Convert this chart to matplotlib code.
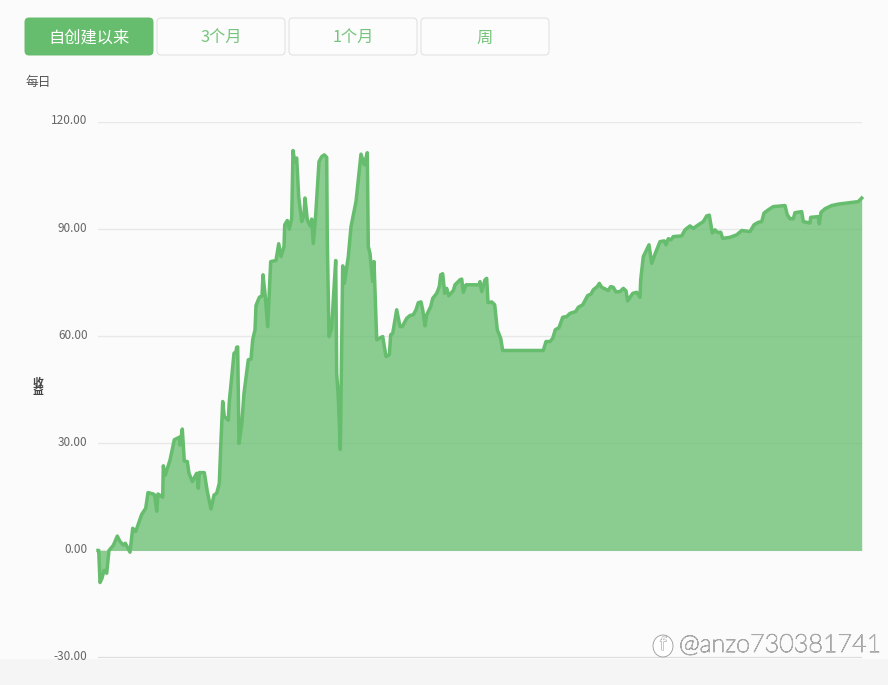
import matplotlib
matplotlib.use('Agg')
import matplotlib.pyplot as plt
import matplotlib.patheffects as pe
from matplotlib.patches import Ellipse, FancyBboxPatch, Rectangle
from matplotlib.transforms import ScaledTranslation

plt.rcParams['font.family'] = ['Noto Sans CJK SC', 'DejaVu Sans']

buttons = ['自创建以来', '3个月', '1个月', '周']
y_ticks = [-30, 0, 30, 60, 90, 120]

# день от начала графика и доходность
days_1 = [0, 0.7, 2, 4, 6, 8.7, 11, 15.3, 19.3, 22,
          25.3, 27.3, 32, 34.7, 37.7, 43.7, 47.7, 50, 55.3, 56.7,
          58.7, 60, 64.7, 65.3, 67.3, 72, 76.3, 81.3, 82, 84.3,
          86.3, 89.3, 91, 94.3, 98.7, 100.3, 101.3, 106.3, 109.3, 113,
          116, 118.7, 121.3, 122.7]
values_1 = [0, 0, -9, -7.8, -5.6, -6.4, 0, 1.4, 4, 2.5,
            1.5, 2, -0.5, 6.2, 5.3, 10.1, 11.8, 16.2, 15.8, 15.5,
            11, 15.8, 14.9, 23.7, 21.1, 25.3, 31, 31.7, 29.5, 34,
            25, 24.9, 21.6, 19.3, 21.6, 17.4, 21.8, 21.8, 16.5, 11.6,
            15.5, 16, 18.8, 29]

days_2 = [124.7, 126.3, 130.3, 131.3, 133.7, 136, 138, 138.7, 139.7, 141,
          143.7, 146, 150.3, 153, 154.7, 157, 158, 161.3, 164, 165,
          167.3, 169.7, 172.7, 178, 180.7, 183, 186, 186.7, 189.3, 191.3,
          193.7, 195, 196.7, 198.7, 200.7, 203.7, 206, 207, 209.3, 212,
          213.7, 215.3, 217.7, 219.3, 221, 223.7, 226.3, 228.7, 229.3, 231,
          233.7, 235.3, 237.7, 238.7, 240.3, 242.3, 243.7, 244.7, 246.3, 250.3,
          253, 258, 260.3, 263, 266.3, 269.3, 270.3, 272, 274.7, 276,
          278.7, 284.7, 288, 291.3, 292.7, 294.7, 298.7, 302, 304.3, 308.7]
values_2 = [41.7, 37.5, 36.5, 41.7, 48.7, 55.2, 55.7, 56.9, 57, 30,
            35.2, 44, 53.4, 53.6, 59, 61.8, 68.6, 70.9, 71.3, 77.2,
            71.1, 62.7, 80.9, 81.2, 85.9, 82.3, 85.1, 91.2, 92.4, 90,
            93, 112, 108.9, 109.9, 99.1, 92.1, 94, 98.7, 92.6, 90.9,
            92.8, 86, 94, 101, 108.9, 110.3, 110.8, 110.1, 87, 59.9,
            62.2, 70.2, 81.2, 49.6, 43, 28.3, 59, 79.7, 74.8, 82.3,
            90.7, 97.7, 103.8, 111, 108, 111.4, 85.1, 83.2, 75.3, 80.9,
            59, 59.9, 54.3, 54.8, 60.4, 60.8, 67.4, 62.7, 62.7, 65]

days_3 = [312, 315.3, 318, 320.3, 323, 324.7, 327, 328.7, 332.7, 334.7,
          338.7, 341.3, 342.7, 344.7, 346.7, 348.7, 350.7, 355.3, 357, 362,
          363.7, 365.3, 368, 381.3, 382, 383.7, 387, 388.7, 390, 393.7,
          396.7, 399.3, 402.7, 404.7, 445.3, 448, 452, 454.7, 457.3, 461,
          464.7, 468.7, 472, 477.7, 480.3, 484.7, 489.7, 493, 495.3, 499.3,
          501.3, 503.7, 510.3, 512.7, 515.3, 518, 522, 525.3, 528, 529.7,
          534.7, 538.7, 542, 542.7]
values_3 = [65.8, 66, 67.4, 69.4, 69.6, 67.4, 62.9, 66, 68.3, 70.6,
            72, 73.9, 77.2, 77.5, 72, 73.4, 71.3, 72.8, 74.4, 75.8,
            76, 72.3, 74.4, 74.4, 75.3, 72.5, 75.8, 76.2, 69.4, 69.6,
            68.8, 61.8, 59.4, 56, 56, 58.5, 58.5, 59.4, 61.8, 62.4,
            65.3, 65.5, 66.4, 66.9, 68.1, 68.8, 71.4, 71.8, 73, 73.9,
            74.8, 73.7, 72.8, 73.9, 73.7, 72.4, 72.5, 73.4, 72.7, 69.9,
            72, 72.3, 70.9, 75.8]

days_4 = [545.3, 551, 553.7, 557, 562, 566.3, 568, 570.3, 573, 575.3,
          583.7, 587, 592, 595.3, 600.3, 605.3, 608.7, 611.3, 614.3, 617,
          619.3, 622.7, 624.7, 632, 638.7, 643.7, 652, 656, 660.3, 663.7,
          666, 670.3, 675.3, 687, 689.3, 692, 695.3, 697, 703.7, 705.3,
          712, 712.7, 720.3, 721.3, 723, 727, 733.7, 740.3, 752, 760.3,
          763.7]
values_4 = [82.3, 85.6, 80.4, 83, 86.5, 86.7, 85.6, 87.3, 87, 87.9,
            88.1, 89.8, 90.9, 90.2, 91.2, 92.1, 93.7, 93.9, 88.9, 89.8,
            89.1, 89.1, 87.4, 87.7, 88.4, 89.6, 89.3, 91.2, 91.9, 92.1,
            94.5, 95.4, 96.3, 96.6, 94, 92.9, 92.9, 94.6, 94.9, 92.1,
            91.7, 93.3, 93.5, 91.5, 94.7, 95.7, 96.6, 97, 97.4, 97.7,
            98.7]

days = days_1 + days_2 + days_3 + days_4
values = values_1 + values_2 + values_3 + values_4

W, H = 888, 685
fig = plt.figure(figsize=(W / 100, H / 100), dpi=100, facecolor='#fbfbfb')

# нижняя полоса страницы, под осями
fig.add_artist(Rectangle((0, 0), 1, 26 / H, transform=fig.transFigure, fc='#f5f5f5', ec='none', zorder=0))

ax = fig.add_axes([98 / W, 1 - 657.5 / H, 764 / W, (657.5 - 122) / H], zorder=2)
ax.set_facecolor('none')
ax.set_xlim(0, 764)
ax.set_ylim(-30, 120)
ax.set_yticks(y_ticks)
ax.set_yticklabels(['%.2f' % t for t in y_ticks], fontsize=8.5, color='#666666')
ax.set_xticks([])
ax.tick_params(axis='y', length=0, pad=7.5)
# подписи чуть выше линий сетки
shift = ScaledTranslation(0, 2.5 / 100, fig.dpi_scale_trans)
for label in ax.get_yticklabels():
    label.set_transform(label.get_transform() + shift)
for s in ax.spines.values():
    s.set_visible(False)
ax.grid(axis='y', color='#e8e8e8', lw=1)
ax.set_axisbelow(True)
ax.axhline(-30, color='#dddddd', lw=1.6, zorder=1)

ax.fill_between(days, values, 0, color='#66bd6d', alpha=0.75, lw=0, zorder=2)
ax.plot(days, values, color='#66bd6d', lw=2.5, solid_joinstyle='round', clip_on=False, zorder=3)

# верхний слой в пикселях: кнопки и подписи
over = fig.add_axes([0, 0, 1, 1], zorder=3)
over.set_xlim(0, W)
over.set_ylim(H, 0)
over.axis('off')
over.patch.set_alpha(0)

for i, name in enumerate(buttons):
    x0 = 25 + 132 * i
    active = i == 0
    over.add_patch(FancyBboxPatch((x0 + 3, 21), 122, 31, boxstyle='round,pad=3,rounding_size=4',
                                  fc='#66bd6d' if active else '#fcfcfc',
                                  ec='#66bd6d' if active else '#dfdfdf', lw=0.7))
    over.text(x0 + 64, 38, name, ha='center', va='center', fontsize=11.7,
              color='white' if active else '#76c47c')

over.text(25, 82, '每日', ha='left', va='center', fontsize=9.2, color='#555555')
over.text(37.5, 387, '收\n益', ha='center', va='center', fontsize=7.8, color='#444444',
          linespacing=0.8, fontweight='bold')

# водяной знак
halo = [pe.withStroke(linewidth=0.6, foreground='#8a8a8a')]
over.add_patch(Ellipse((663, 646), 20, 22, fc='white', ec='#999999', lw=0.6))
over.text(663, 645, 'f', ha='center', va='center', fontsize=13, color='white',
          family='DejaVu Sans', path_effects=halo)
over.text(679, 645, '@anzo730381741', ha='left', va='center', fontsize=18.1, color='white',
          family='Lato', fontweight='light', path_effects=halo)

plt.savefig('out.png', dpi=100, facecolor=fig.get_facecolor())
plt.close()
